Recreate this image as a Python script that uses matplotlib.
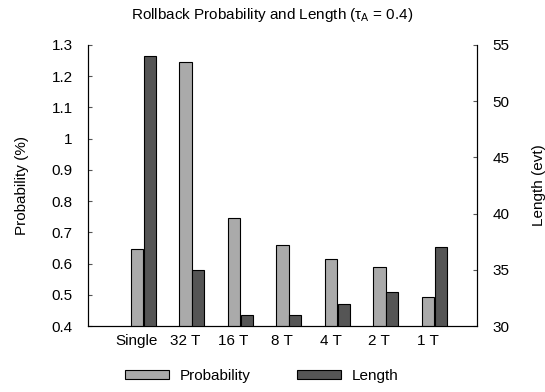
#!/usr/bin/env python3

import numpy as np
import matplotlib
matplotlib.use('Agg')
import matplotlib.pyplot as plt
from matplotlib.ticker import FuncFormatter


categories = ['Single', '32 T', '16 T', '8 T', '4 T', '2 T', '1 T']
probability = [0.646, 1.247, 0.747, 0.658, 0.616, 0.59, 0.492]
length = [54.05, 35.0, 31.0, 31.0, 32.0, 33.0, 37.0]


def main():
    plt.rcParams['font.family'] = ['Liberation Sans', 'DejaVu Sans']
    plt.rcParams['font.size'] = 11
    plt.rcParams['mathtext.default'] = 'regular'

    fig = plt.figure(figsize=(5.45, 3.92), dpi=100)
    ax = fig.add_axes([88 / 545, 1 - 326 / 392, (477 - 88) / 545, (326 - 45) / 392])
    ax2 = ax.twinx()

    x = np.arange(len(categories))
    w = 0.25
    ax.bar(x - w / 2 - 0.005, probability, width=w, color='#aaaaaa',
           edgecolor='black', linewidth=0.8, label='Probability')
    ax2.bar(x + w / 2 + 0.005, length, width=w, color='#555555',
            edgecolor='black', linewidth=0.8, label='Length')

    ax.set_xlim(-1.14, 6.88)
    ax.set_ylim(0.4, 1.3)
    ax2.set_ylim(30, 55)
    ax.set_yticks(np.arange(0.4, 1.31, 0.1))
    ax.yaxis.set_major_formatter(FuncFormatter(lambda v, p: f'{v:.1f}'.rstrip('0').rstrip('.')))
    ax2.set_yticks([30, 35, 40, 45, 50, 55])

    ax.set_xticks(x - 0.14)
    ax.set_xticklabels(categories)
    ax.tick_params(axis='x', length=0, pad=6)
    ax.tick_params(axis='y', direction='in', length=3, width=0.8, color='#555555', pad=11)
    ax2.tick_params(axis='y', direction='in', length=3, width=0.8, color='#555555', pad=11)

    for a in (ax, ax2):
        a.spines['top'].set_visible(False)

    ax.set_ylabel('Probability (%)', labelpad=16)
    ax2.set_ylabel('Length (evt)', labelpad=16)
    fig.text(0.5, 1 - 15 / 392, r'Rollback Probability and Length ($\tau_A$ = 0.4)',
             ha='center', va='center', fontsize=11)

    h1, l1 = ax.get_legend_handles_labels()
    h2, l2 = ax2.get_legend_handles_labels()
    fig.legend(h1 + h2, l1 + l2, loc='center', bbox_to_anchor=(0.48, 1 - 376 / 392),
               ncol=2, frameon=False, handlelength=2.9, handleheight=0.55,
               columnspacing=3.0, handletextpad=0.7)

    fig.savefig('out.png', dpi=100)


if __name__ == '__main__':
    main()
